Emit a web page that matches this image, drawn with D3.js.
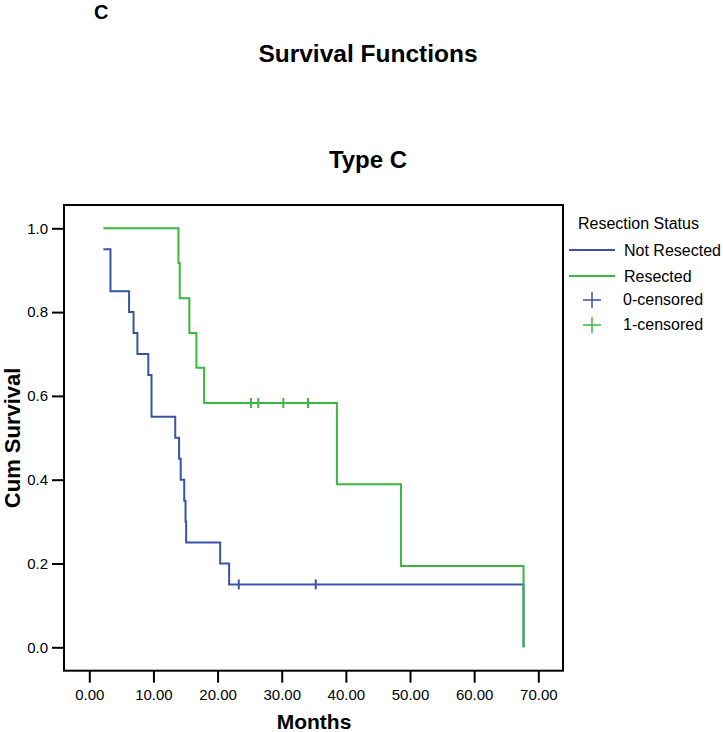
<!DOCTYPE html>
<html>
<head>
<meta charset="utf-8">
<script src="https://cdn.jsdelivr.net/npm/d3@7"></script>
<style>
  html, body { margin: 0; padding: 0; background: #fff; }
  svg { display: block; font-family: Arial, "Liberation Sans", sans-serif; }
</style>
</head>
<body>
<svg id="chart" width="723" height="732"></svg>
<script>
// ---- data ----
const groups = ["Not Resected", "Resected"];
const censorLabels = ["0-censored", "1-censored"];
const xTicks = [0, 10, 20, 30, 40, 50, 60, 70];
const yTicks = [0, 0.2, 0.4, 0.6, 0.8, 1.0];

const notResStart = [2.2, 0.95];
const notResTimes = [3.3, 6.2, 6.9, 7.5, 9.2, 9.7, 13.4, 14.0, 14.25, 14.8, 15.0, 15.1, 20.4, 21.8, 67.7];
const notResSurv  = [0.85, 0.80, 0.75, 0.70, 0.65, 0.55, 0.50, 0.45, 0.40, 0.35, 0.30, 0.25, 0.20, 0.15, 0.0];
const notResCensTimes = [23.3, 35.3];
const notResCensSurv  = [0.15, 0.15];

const resStart = [2.2, 1.0];
const resTimes = [13.9, 14.1, 15.6, 16.7, 17.9, 38.6, 48.6, 67.7];
const resSurv  = [0.917, 0.833, 0.75, 0.667, 0.583, 0.389, 0.194, 0.0];
const resCensTimes = [25.2, 26.35, 30.25, 34.1];
const resCensSurv  = [0.583, 0.583, 0.583, 0.583];

const colors = ["#3a52a8", "#39b83d"];

// ---- layout ----
const svg = d3.select("#chart");
const frame = { left: 64, right: 563, top: 205, bottom: 670.7 };
const x = d3.scaleLinear().domain([0, 70]).range([89.3, 538.3]);
const y = d3.scaleLinear().domain([0, 1]).range([647.3, 228.3]);

// titles
svg.append("text").attr("x", 94).attr("y", 19).attr("font-size", 20).attr("font-weight", "bold").text("C");
svg.append("text").attr("x", 368).attr("y", 62).attr("text-anchor", "middle")
  .attr("font-size", 24.5).attr("font-weight", "bold").text("Survival Functions");
svg.append("text").attr("x", 368).attr("y", 168).attr("text-anchor", "middle")
  .attr("font-size", 24).attr("font-weight", "bold").text("Type C");

// frame
svg.append("rect").attr("x", frame.left).attr("y", frame.top)
  .attr("width", frame.right - frame.left).attr("height", frame.bottom - frame.top)
  .attr("fill", "none").attr("stroke", "#000").attr("stroke-width", 2);

// axes
const yAxis = svg.append("g").attr("transform", `translate(${frame.left},0)`)
  .call(d3.axisLeft(y).tickValues(yTicks).tickSize(12).tickPadding(4).tickFormat(d3.format(".1f")));
const xAxis = svg.append("g").attr("transform", `translate(0,${frame.bottom})`)
  .call(d3.axisBottom(x).tickValues(xTicks).tickSize(12).tickPadding(6.6).tickFormat(d3.format(".2f")));
[yAxis, xAxis].forEach(g => {
  g.select(".domain").remove();
  g.selectAll(".tick line").attr("stroke", "#000").attr("stroke-width", 2);
  g.selectAll(".tick text").attr("font-size", 15).attr("fill", "#000")
    .attr("font-family", "Arial, 'Liberation Sans', sans-serif");
});

// axis titles
svg.append("text").attr("x", 314).attr("y", 729).attr("text-anchor", "middle")
  .attr("font-size", 21).attr("font-weight", "bold").text("Months");
svg.append("text").attr("transform", `translate(20,${(frame.top + frame.bottom) / 2}) rotate(-90)`)
  .attr("text-anchor", "middle").attr("font-size", 22).attr("font-weight", "bold").text("Cum Survival");

// step curves
function stepPoints(start, times, surv) {
  const pts = [start];
  times.forEach((t, i) => pts.push([t, surv[i]]));
  return pts;
}
const line = d3.line().x(d => x(d[0])).y(d => y(d[1])).curve(d3.curveStepAfter);
const series = [
  { pts: stepPoints(notResStart, notResTimes, notResSurv), ct: notResCensTimes, cs: notResCensSurv },
  { pts: stepPoints(resStart, resTimes, resSurv), ct: resCensTimes, cs: resCensSurv }
];
series.forEach((s, i) => {
  svg.append("path").attr("d", line(s.pts)).attr("fill", "none")
    .attr("stroke", colors[i]).attr("stroke-width", 2);
  svg.append("g").selectAll("line").data(s.ct.map((t, j) => [t, s.cs[j]])).join("line")
    .attr("x1", d => x(d[0])).attr("x2", d => x(d[0]))
    .attr("y1", d => y(d[1]) - 5).attr("y2", d => y(d[1]) + 5)
    .attr("stroke", colors[i]).attr("stroke-width", 2);
});

// legend
const lg = svg.append("g").attr("font-size", 16).attr("fill", "#000");
lg.append("text").attr("x", 578).attr("y", 229).text("Resection Status");
const lineRows = [250, 276];
groups.forEach((g, i) => {
  lg.append("line").attr("x1", 569).attr("x2", 615).attr("y1", lineRows[i]).attr("y2", lineRows[i])
    .attr("stroke", colors[i]).attr("stroke-width", 2);
  lg.append("text").attr("x", 624).attr("y", lineRows[i] + 5.5).text(g);
});
const censRows = [300, 325];
censorLabels.forEach((c, i) => {
  const cy = censRows[i];
  lg.append("line").attr("x1", 583).attr("x2", 601).attr("y1", cy).attr("y2", cy)
    .attr("stroke", colors[i]).attr("stroke-width", 1.5);
  lg.append("line").attr("x1", 592).attr("x2", 592).attr("y1", cy - 8).attr("y2", cy + 8)
    .attr("stroke", colors[i]).attr("stroke-width", 1.5);
  lg.append("text").attr("x", 623).attr("y", cy + 5).text(c);
});
</script>
</body>
</html>
